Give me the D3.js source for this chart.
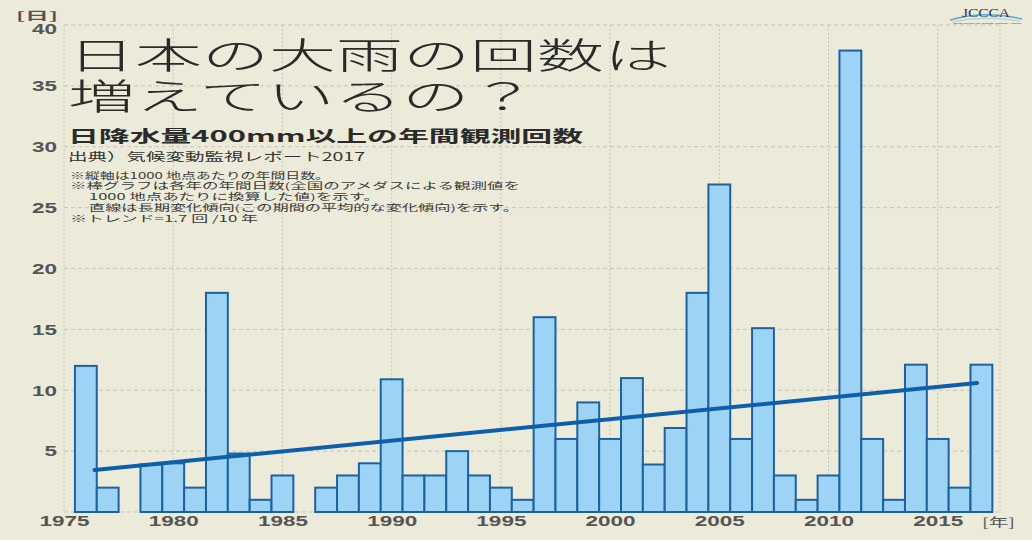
<!DOCTYPE html>
<html>
<head>
    <meta charset="utf-8">
    <title>日本の大雨の回数は増えているの？</title>
    <script src="https://d3js.org/d3.v7.min.js"></script>
    <style>
        body { margin: 0; background: #ecead9; }
        svg { display: block; }
        .tick-label { font-family: "Liberation Sans", Arial, sans-serif; font-weight: bold; font-size: 15px; fill: #555; }
        .jp { font-family: "Noto Sans CJK JP", "Noto Sans", sans-serif; }
    </style>
</head>
<body>
<script>
    var w = 1032;
    var h = 540;

    // data
    var years = [1976, 1977, 1978, 1979, 1980, 1981, 1982, 1983, 1984, 1985,
        1986, 1987, 1988, 1989, 1990, 1991, 1992, 1993, 1994, 1995,
        1996, 1997, 1998, 1999, 2000, 2001, 2002, 2003, 2004, 2005,
        2006, 2007, 2008, 2009, 2010, 2011, 2012, 2013, 2014, 2015,
        2016, 2017];
    var counts = [12, 2, 0, 3.9, 4, 2, 18, 4.8, 1, 3,
        0, 2, 3, 4, 10.9, 3, 3, 5, 3, 2,
        1, 16, 6, 9, 6, 11, 3.9, 6.9, 18, 26.9,
        6, 15.1, 3, 1, 3, 37.9, 6, 1, 12.1, 6,
        2, 12.1];
    var trendYears = [1976.4, 2016.8];
    var trendValues = [3.45, 10.6];
    var xTicks = [1975, 1980, 1985, 1990, 1995, 2000, 2005, 2010, 2015];
    var yTicks = [5, 10, 15, 20, 25, 30, 35, 40];

    var titleLines = ["日本の大雨の回数は", "増えているの？"];
    var subtitle = "日降水量400mm以上の年間観測回数";
    var source = "出典）気候変動監視レポート2017";
    var notes = ["※縦軸は1000 地点あたりの年間日数。",
        "※棒グラフは各年の年間日数(全国のアメダスによる観測値を",
        "1000 地点あたりに換算した値)を示す。",
        "直線は長期変化傾向(この期間の平均的な変化傾向)を示す。",
        "※トレンド=1.7 回 /10 年"];

    var plotLeft = 64, plotRight = 1000, plotTop = 25, plotBottom = 512;

    var x = d3.scaleLinear().domain([1975, 2017.85]).range([plotLeft, plotRight]);
    var y = d3.scaleLinear().domain([0, 40]).range([plotBottom, plotTop]);

    var svg = d3.select("body").append("svg")
        .attr("width", w)
        .attr("height", h);

    svg.append("rect").attr("width", w).attr("height", h).attr("fill", "#ecead9");

    // grid
    var grid = svg.append("g");
    grid.selectAll(".hgrid")
        .data([0].concat(yTicks))
        .enter().append("line")
        .attr("x1", plotLeft).attr("x2", plotRight)
        .attr("y1", function (d) { return y(d); })
        .attr("y2", function (d) { return y(d); })
        .attr("stroke", "#c6c5bb")
        .attr("stroke-width", 1)
        .attr("stroke-dasharray", "4,3");
    grid.selectAll(".vgrid")
        .data(xTicks.concat([2017.85]))
        .enter().append("line")
        .attr("x1", function (d) { return x(d); })
        .attr("x2", function (d) { return x(d); })
        .attr("y1", plotTop).attr("y2", plotBottom)
        .attr("stroke", "#c6c5bb")
        .attr("stroke-width", 1)
        .attr("stroke-dasharray", "2,2");

    // titles
    var ttl = svg.append("g").attr("class", "jp").attr("fill", "#2a2a2a");
    ttl.append("text")
        .attr("x", 68).attr("y", 53)
        .attr("dominant-baseline", "central")
        .attr("font-size", 36).attr("font-weight", 200)
        .attr("textLength", 603).attr("lengthAdjust", "spacingAndGlyphs")
        .text(titleLines[0]);
    ttl.append("text")
        .attr("x", 68).attr("y", 94)
        .attr("dominant-baseline", "central")
        .attr("font-size", 36).attr("font-weight", 200)
        .attr("textLength", 469).attr("lengthAdjust", "spacingAndGlyphs")
        .text(titleLines[1]);
    ttl.append("text")
        .attr("x", 68).attr("y", 135)
        .attr("dominant-baseline", "central")
        .attr("font-size", 16).attr("font-weight", "bold")
        .attr("textLength", 515).attr("lengthAdjust", "spacingAndGlyphs")
        .text(subtitle);
    ttl.append("text")
        .attr("x", 68).attr("y", 156)
        .attr("dominant-baseline", "central")
        .attr("font-size", 11.5).attr("fill", "#333")
        .attr("textLength", 297).attr("lengthAdjust", "spacingAndGlyphs")
        .text(source);

    var noteX = [70, 70, 89, 89, 70];
    var noteEnd = [330, 520, 380, 519, 258];
    ttl.selectAll(".note")
        .data(notes)
        .enter().append("text")
        .attr("x", function (d, i) { return noteX[i]; })
        .attr("y", function (d, i) { return 175 + i * 10.8; })
        .attr("dominant-baseline", "central")
        .attr("font-size", 9).attr("fill", "#3a3a3a")
        .attr("textLength", function (d, i) { return noteEnd[i] - noteX[i]; })
        .attr("lengthAdjust", "spacingAndGlyphs")
        .text(function (d) { return d; });

    // bars
    var bars = years.map(function (yr, i) { return { year: yr, value: counts[i] }; })
        .filter(function (d) { return d.value > 0; });

    svg.append("g").selectAll("rect")
        .data(bars)
        .enter().append("rect")
        .attr("x", function (d) { return x(d.year - 0.5); })
        .attr("width", function (d) { return x(d.year + 0.5) - x(d.year - 0.5); })
        .attr("y", function (d) { return y(d.value); })
        .attr("height", function (d) { return y(0) - y(d.value); })
        .attr("fill", "#9dd4f5")
        .attr("stroke", "#1c62a3")
        .attr("stroke-width", 2);

    // trend
    var line = d3.line()
        .x(function (d) { return x(d[0]); })
        .y(function (d) { return y(d[1]); });
    svg.append("path")
        .datum(trendYears.map(function (yr, i) { return [yr, trendValues[i]]; }))
        .attr("d", line)
        .attr("fill", "none")
        .attr("stroke", "#0e5fab")
        .attr("stroke-width", 4)
        .attr("stroke-linecap", "round");

    // axes
    var xAxis = svg.append("g")
        .attr("transform", "translate(0," + plotBottom + ")")
        .call(d3.axisBottom(x).tickValues(xTicks).tickFormat(d3.format("d")).tickSize(0).tickPadding(3));
    xAxis.select(".domain").remove();
    xAxis.selectAll("text")
        .attr("class", "tick-label")
        .attr("font-family", null).attr("font-size", null)
        .attr("transform", "scale(1.5,1)");

    var yAxis = svg.append("g")
        .attr("transform", "translate(" + plotLeft + ",0)")
        .call(d3.axisLeft(y).tickValues(yTicks).tickSize(0).tickPadding(4.7));
    yAxis.select(".domain").remove();
    yAxis.selectAll("text")
        .attr("class", "tick-label")
        .attr("font-family", null).attr("font-size", null)
        .attr("transform", "scale(1.5,1)");
    // top label sits a little below its grid line
    yAxis.selectAll(".tick")
        .filter(function (d) { return d === 40; })
        .select("text")
        .attr("y", 4);

    // unit labels
    svg.append("text")
        .attr("class", "jp")
        .attr("x", 16).attr("y", 15)
        .attr("dominant-baseline", "central")
        .attr("font-size", 11).attr("font-weight", "bold").attr("fill", "#555")
        .attr("textLength", 42).attr("lengthAdjust", "spacingAndGlyphs")
        .text("[日]");
    svg.append("text")
        .attr("class", "jp")
        .attr("x", 982).attr("y", 521)
        .attr("dominant-baseline", "central")
        .attr("font-size", 12).attr("fill", "#555")
        .attr("textLength", 33).attr("lengthAdjust", "spacingAndGlyphs")
        .text("[年]");

    // logo
    var logo = svg.append("g");
    logo.append("path")
        .attr("d", "M950,20 Q985,10 1022,19")
        .attr("fill", "none").attr("stroke", "#5aa8cf").attr("stroke-width", 1.5);
    logo.append("path")
        .attr("d", "M952,22 Q985,15 1020,21")
        .attr("fill", "none").attr("stroke", "#9fd0e6").attr("stroke-width", 1);
    logo.append("text")
        .attr("x", 962).attr("y", 17)
        .attr("font-family", "Liberation Serif, serif")
        .attr("font-size", 13).attr("fill", "#27386b")
        .attr("textLength", 48).attr("lengthAdjust", "spacingAndGlyphs")
        .text("JCCCA");
    logo.append("text")
        .attr("x", 953).attr("y", 24)
        .attr("font-family", "Liberation Sans, sans-serif")
        .attr("font-size", 2.5).attr("fill", "#445")
        .attr("textLength", 68).attr("lengthAdjust", "spacingAndGlyphs")
        .text("Japan Center for Climate Change Actions");
</script>
</body>
</html>
